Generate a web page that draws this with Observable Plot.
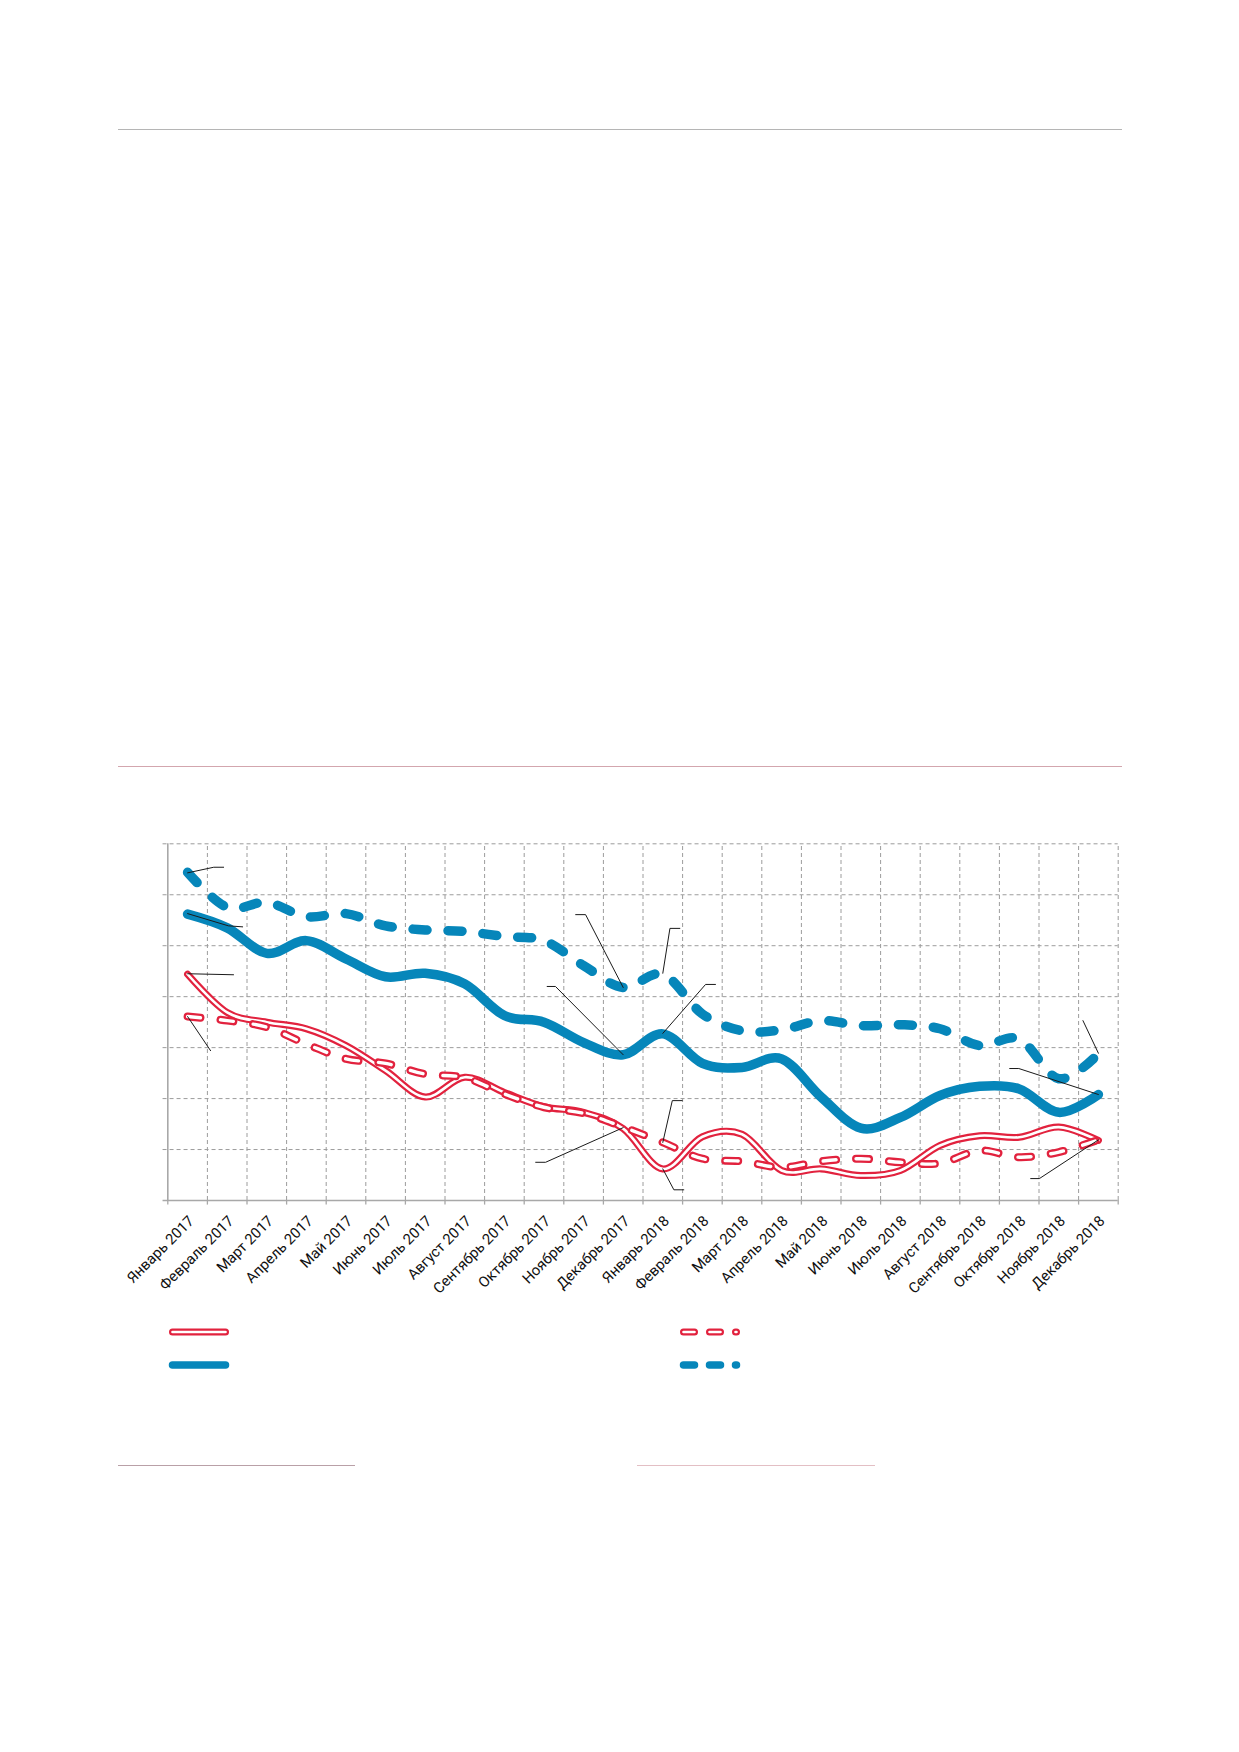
<!DOCTYPE html>
<html><head><meta charset="utf-8">
<script src="https://cdn.jsdelivr.net/npm/d3@7"></script>
<script src="https://cdn.jsdelivr.net/npm/@observablehq/plot@0.6"></script>
<style>
html,body{margin:0;padding:0;background:#fff;}
#page{position:relative;width:1239px;height:1752px;overflow:hidden;font-family:Roboto,sans-serif;background:#fff;}
.rule{position:absolute;height:0;}
#chart{position:absolute;left:0;top:800px;}
#legend{position:absolute;left:0;top:1300px;}
</style></head>
<body><div id="page">
<div class="rule" style="left:118px;top:129px;width:1004px;border-top:1.3px solid #b5b5b5"></div>
<div class="rule" style="left:118px;top:766px;width:1004px;border-top:1.3px solid #d3a6ae"></div>
<div class="rule" style="left:118px;top:1465px;width:237px;border-top:1.3px solid #b9a0a7"></div>
<div class="rule" style="left:637px;top:1465px;width:238px;border-top:1.3px solid #e3bfc4"></div>
<div id="chart"></div>
<svg id="legend" width="1239" height="100"></svg>
</div>
<script>
const months = ["Январь 2017","Февраль 2017","Март 2017","Апрель 2017","Май 2017","Июнь 2017","Июль 2017","Август 2017","Сентябрь 2017","Октябрь 2017","Ноябрь 2017","Декабрь 2017","Январь 2018","Февраль 2018","Март 2018","Апрель 2018","Май 2018","Июнь 2018","Июль 2018","Август 2018","Сентябрь 2018","Октябрь 2018","Ноябрь 2018","Декабрь 2018"];

const blueSolid  = [5.62,5.35,4.85,5.10,4.74,4.39,4.46,4.25,3.63,3.50,3.10,2.86,3.27,2.69,2.61,2.78,2.03,1.42,1.63,2.06,2.24,2.19,1.73,2.08];
const blueDashed = [6.44,5.75,5.85,5.57,5.63,5.39,5.31,5.28,5.18,5.10,4.61,4.18,4.44,3.66,3.33,3.35,3.53,3.43,3.45,3.37,3.04,3.17,2.39,2.88];
const redSolid   = [4.44,3.69,3.50,3.37,3.04,2.55,2.03,2.42,2.12,1.84,1.73,1.41,0.62,1.25,1.30,0.59,0.62,0.49,0.59,1.08,1.27,1.24,1.44,1.18];
const redDashed  = [3.61,3.53,3.40,3.07,2.78,2.69,2.48,2.41,2.09,1.83,1.71,1.44,1.14,0.82,0.77,0.65,0.77,0.82,0.75,0.73,0.98,0.85,0.95,1.19];

const gridValues = [1,2,3,4,5,6,7];

// leader (callout) lines, in month-index / value units
const callouts = [
 [[0,6.43],[0.66,6.54],[0.91,6.54]],
 [[0,5.63],[1.03,5.39],[1.39,5.37]],
 [[0,4.45],[1.16,4.43]],
 [[0,3.61],[0.58,2.94]],
 [[11,4.18],[10.05,5.61],[9.8,5.61]],
 [[11,2.86],[9.29,4.2],[9.08,4.2]],
 [[11,1.43],[9.04,0.75],[8.79,0.75]],
 [[12,4.46],[12.18,5.34],[12.43,5.34]],
 [[12,3.28],[13.08,4.24],[13.33,4.24]],
 [[12,1.14],[12.24,1.96],[12.49,1.96]],
 [[12,0.62],[12.28,0.21],[12.53,0.21]],
 [[23,2.89],[22.61,3.53]],
 [[23,2.08],[20.99,2.59],[20.76,2.59]],
 [[23,1.19],[21.51,0.43],[21.29,0.43]]
];

const RED = "#e2223e", BLUE = "#0686ba", GRID = "#9c9c9c", AXIS = "#a8a8a8";
const idx = months.map((m, i) => i);
const rows = vals => vals.map((v, i) => ({i, v}));
const bounds = d3.range(0, 25).map(k => k - 0.5);
const calloutRows = callouts.flatMap((pts, id) => pts.map(([x, y]) => ({id, x, y})));
const curve = "cardinal";

const plot = Plot.plot({
  width: 1239, height: 520,
  marginTop: 43.3, marginBottom: 120, marginLeft: 167.3, marginRight: 121.3,
  style: {fontFamily: "Roboto, sans-serif", background: "transparent"},
  x: {domain: [-0.5, 23.5], axis: null},
  y: {domain: [0, 7], axis: null},
  marks: [
    Plot.ruleY(gridValues, {x1: -0.62, x2: 23.5, stroke: GRID, strokeDasharray: "4,3", strokeWidth: 1}),
    Plot.ruleX(bounds.slice(1), {y1: 0, y2: 7, stroke: GRID, strokeDasharray: "4,3", strokeWidth: 1}),
    Plot.ruleX(bounds, {y1: -0.09, y2: 0, stroke: AXIS, strokeWidth: 1.3}),
    Plot.ruleX([-0.5], {y1: 0, y2: 7, stroke: AXIS, strokeWidth: 1.6}),
    Plot.ruleY([0], {x1: -0.62, x2: 23.5, stroke: AXIS, strokeWidth: 1.6}),
    // red solid (double line)
    Plot.line(rows(redSolid), {x: "i", y: "v", curve, stroke: RED, strokeWidth: 7, strokeLinecap: "round"}),
    Plot.line(rows(redSolid), {x: "i", y: "v", curve, stroke: "#fff", strokeWidth: 2.6, strokeLinecap: "round"}),
    // red dashed (outlined dashes)
    Plot.line(rows(redDashed), {x: "i", y: "v", curve, stroke: RED, strokeWidth: 8, strokeLinecap: "round", strokeDasharray: "13,20"}),
    Plot.line(rows(redDashed), {x: "i", y: "v", curve, stroke: "#fff", strokeWidth: 3.4, strokeLinecap: "round", strokeDasharray: "13,20"}),
    // blue
    Plot.line(rows(blueSolid), {x: "i", y: "v", curve, stroke: BLUE, strokeWidth: 9.5, strokeLinecap: "round"}),
    Plot.line(rows(blueDashed), {x: "i", y: "v", curve, stroke: BLUE, strokeWidth: 9.5, strokeLinecap: "round", strokeDasharray: "14,21"}),
    // callouts
    Plot.line(calloutRows, {x: "x", y: "y", z: "id", stroke: "#1a1a1a", strokeWidth: 1}),
    // month labels
    Plot.text(idx, {x: d => d, y: d => 0, text: d => months[d], rotate: -45, textAnchor: "end",
      dx: 4, dy: 18, fontSize: 14.8, fill: "#111", letterSpacing: "-0.2px"})
  ]
});
document.getElementById("chart").appendChild(plot);

// legend swatches
const lg = d3.select("#legend");
function swatch(x1, x2, y, color, w, dash, inner) {
  const l = lg.append("line").attr("x1", x1).attr("x2", x2).attr("y1", y).attr("y2", y)
    .attr("stroke", color).attr("stroke-width", w).attr("stroke-linecap", "round");
  if (dash) l.attr("stroke-dasharray", dash);
  if (inner) {
    const l2 = lg.append("line").attr("x1", x1).attr("x2", x2).attr("y1", y).attr("y2", y)
      .attr("stroke", "#fff").attr("stroke-width", inner).attr("stroke-linecap", "round");
    if (dash) l2.attr("stroke-dasharray", dash);
  }
}
swatch(172.5, 225.5, 32, RED, 7, null, 2.6);
swatch(172.5, 225.5, 65, BLUE, 7.5, null, 0);
swatch(683.5, 736.5, 32, RED, 7, "11,15", 2.6);
swatch(683.5, 736.5, 65, BLUE, 7.5, "11,15", 0);
</script>
</body></html>
